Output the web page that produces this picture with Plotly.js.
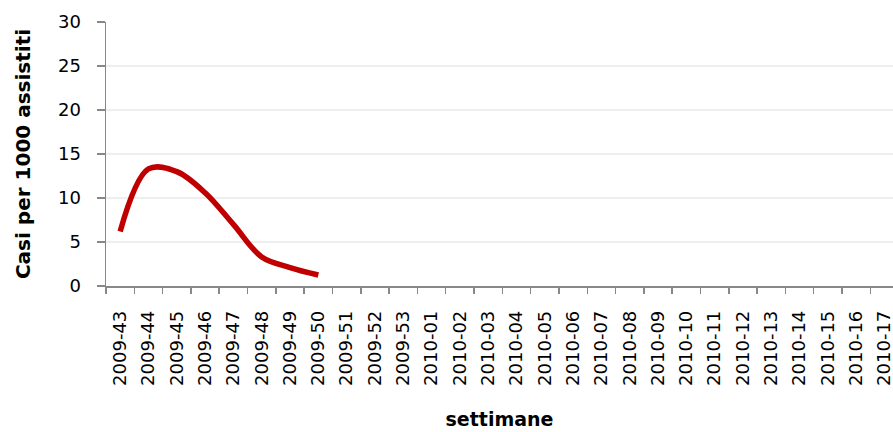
<!DOCTYPE html>
<html>
<head>
<meta charset="utf-8">
<script src="https://cdn.plot.ly/plotly-3.0.1.min.js"></script>
<style>html,body{margin:0;padding:0;background:#fff;}#chart{width:893px;height:432px;}</style>
</head>
<body>
<div id="chart"></div>
<script>
const weeks = ["2009-43","2009-44","2009-45","2009-46","2009-47","2009-48","2009-49","2009-50","2009-51","2009-52","2009-53","2010-01","2010-02","2010-03","2010-04","2010-05","2010-06","2010-07","2010-08","2010-09","2010-10","2010-11","2010-12","2010-13","2010-14","2010-15","2010-16","2010-17"];
const casesWeeks = ["2009-43","2009-44","2009-45","2009-46","2009-47","2009-48","2009-49","2009-50"];
const casesPer1000 = [6.2, 13.3, 13.0, 10.6, 7.0, 3.3, 2.1, 1.25];
const yTitle = "Casi per 1000 assistiti";
const xTitle = "settimane";

const trace = {
  x: casesWeeks, y: casesPer1000, type: "scatter", mode: "lines",
  line: {color: "#C00000", width: 5.5, shape: "spline", smoothing: 1},
  hoverinfo: "skip"
};
const font = {family: "DejaVu Sans", size: 18, color: "#000"};
const layout = {
  width: 893, height: 432,
  margin: {l: 106, r: 0, t: 22, b: 146},
  paper_bgcolor: "#fff", plot_bgcolor: "#fff",
  showlegend: false,
  font: font,
  xaxis: {
    type: "category", categoryorder: "array", categoryarray: weeks,
    tickvals: weeks, ticktext: weeks,
    range: [-0.5, 27.3],
    tickangle: -90, tickson: "boundaries",
    ticks: "outside", ticklen: 6, tickcolor: "#888", tickwidth: 1.5,
    showline: true, linecolor: "#888", linewidth: 1.5,
    showgrid: false, zeroline: false,
    ticklabelstandoff: 16,
    tickfont: font,
    title: {text: xTitle, font: {family: "DejaVu Sans", size: 19, color: "#000", weight: "bold"}, standoff: 28}
  },
  yaxis: {
    range: [0, 30], dtick: 5, tick0: 0,
    ticks: "outside", ticklen: 8, tickcolor: "#888", tickwidth: 1.5,
    showline: true, linecolor: "#888", linewidth: 1.5,
    showgrid: true, gridcolor: "#eeeeee", gridwidth: 1.5,
    zeroline: false,
    ticklabelstandoff: 12,
    tickfont: font,
    title: {text: yTitle, font: {family: "DejaVu Sans", size: 20, color: "#000", weight: "bold"}, standoff: 22}
  }
};
Plotly.newPlot("chart", [trace], layout, {staticPlot: true, displayModeBar: false});
</script>
</body>
</html>
